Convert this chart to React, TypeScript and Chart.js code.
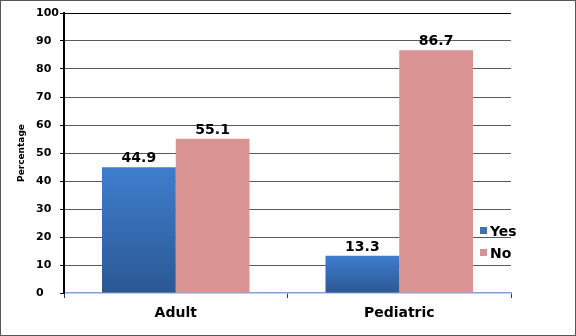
import React, { useEffect, useRef } from "react";
import { Chart, registerables } from "chart.js";

Chart.register(...registerables);

const categories = ["Adult", "Pediatric"];
const seriesNames = ["Yes", "No"];
const yesValues = [44.9, 13.3];
const noValues = [55.1, 86.7];
const yTickMin = 0;
const yTickMax = 100;
const yTickStep = 10;

const FONT = "'DejaVu Sans', Verdana, sans-serif";

const dataLabelPlugin = {
  id: "dataLabels",
  afterDatasetsDraw(chart: any) {
    const { ctx } = chart;
    ctx.save();
    ctx.font = `bold 14px ${FONT}`;
    ctx.fillStyle = "#000";
    ctx.textAlign = "center";
    ctx.textBaseline = "alphabetic";
    chart.data.datasets.forEach((ds: any, di: number) => {
      const meta = chart.getDatasetMeta(di);
      meta.data.forEach((el: any, i: number) => {
        ctx.fillText(String(ds.data[i]), el.x, el.y - 5);
      });
    });
    ctx.restore();
  },
};

const legendPlugin = {
  id: "customLegend",
  afterDraw(chart: any) {
    const { ctx, chartArea } = chart;
    ctx.save();
    ctx.font = `bold 14px ${FONT}`;
    ctx.textBaseline = "middle";
    ctx.textAlign = "left";
    const x0 = chartArea.right - 31;
    const y0 = chartArea.bottom - 66;
    chart.data.datasets.forEach((ds: any, i: number) => {
      const y = y0 + i * 22;
      ctx.fillStyle = ds.legendColor;
      ctx.fillRect(x0, y, 7, 7);
      ctx.fillStyle = "#000";
      ctx.fillText(ds.label, x0 + 10, y + 5);
    });
    ctx.restore();
  },
};

const framePlugin = {
  id: "frame",
  afterDraw(chart: any) {
    const { ctx, width, height } = chart;
    ctx.save();
    ctx.strokeStyle = "#555";
    ctx.lineWidth = 1;
    ctx.strokeRect(0.5, 0.5, width - 1, height - 1);
    ctx.restore();
  },
};

export default function App() {
  const ref = useRef<HTMLCanvasElement | null>(null);

  useEffect(() => {
    document.body.style.margin = "0";
    if (!ref.current) return;
    const blueFill = (c: any) => {
      const chart = c.chart;
      const { chartArea, scales } = chart;
      if (!chartArea || c.type !== "data" || !scales.y) return "#3a74c2";
      const top = scales.y.getPixelForValue(c.raw);
      const base = scales.y.getPixelForValue(0);
      const g = chart.ctx.createLinearGradient(0, top, 0, base);
      g.addColorStop(0, "#3e7dcd");
      g.addColorStop(1, "#2b5894");
      return g;
    };
    const chart = new Chart(ref.current, {
      type: "bar",
      data: {
        labels: categories,
        datasets: [
          {
            label: seriesNames[0],
            data: yesValues,
            backgroundColor: blueFill,
            legendColor: "#3a72c0",
            categoryPercentage: 0.66,
            barPercentage: 1,
          } as any,
          {
            label: seriesNames[1],
            data: noValues,
            backgroundColor: "#d99392",
            legendColor: "#d99392",
            categoryPercentage: 0.66,
            barPercentage: 1,
          } as any,
        ],
      },
      options: {
        animation: false,
        responsive: false,
        devicePixelRatio: 1,
        layout: { padding: { top: 13, right: 65, left: 0, bottom: 0 } },
        plugins: {
          legend: { display: false },
          tooltip: { enabled: false },
        },
        scales: {
          x: {
            offset: true,
            afterFit: (s: any) => {
              s.height = 43;
            },
            grid: {
              offset: true,
              drawOnChartArea: true,
              color: (c: any) => (c.index === 2 ? "#666" : "rgba(0,0,0,0)"),
              tickColor: "#1f3864",
              tickLength: 5,
              lineWidth: 1,
            },
            border: { display: true, color: "#86a2d2", width: 1.5 },
            ticks: {
              color: "#000",
              font: { family: FONT, weight: "bold", size: 14 },
              padding: 7,
            },
          },
          y: {
            min: yTickMin,
            max: yTickMax,
            weight: 0,
            afterFit: (s: any) => {
              s.width = 28;
            },
            grid: {
              color: (c: any) =>
                c.tick && c.tick.value === yTickMax
                  ? "#000"
                  : c.tick && c.tick.value === yTickMin
                  ? "rgba(0,0,0,0)"
                  : "#5a5a5a",
              tickColor: "#000",
              tickLength: 4,
              lineWidth: 1,
            },
            border: { display: true, color: "#000", width: 2 },
            ticks: {
              stepSize: yTickStep,
              color: "#000",
              crossAlign: "far",
              font: { family: FONT, weight: "bold", size: 11 },
            },
          },
          y2: {
            type: "linear",
            position: "left",
            min: yTickMin,
            max: yTickMax,
            weight: 10,
            afterFit: (s: any) => {
              s.width = 36;
            },
            grid: { display: false },
            border: { display: false },
            ticks: { display: false },
            title: {
              display: true,
              text: "Percentage",
              color: "#000",
              font: { family: FONT, weight: "bold", size: 9 },
              padding: { top: 16, bottom: 0 },
            },
          },
        },
      } as any,
      plugins: [dataLabelPlugin, legendPlugin, framePlugin],
    });
    return () => chart.destroy();
  }, []);

  return <canvas ref={ref} width={576} height={336} style={{ display: "block" }} />;
}
